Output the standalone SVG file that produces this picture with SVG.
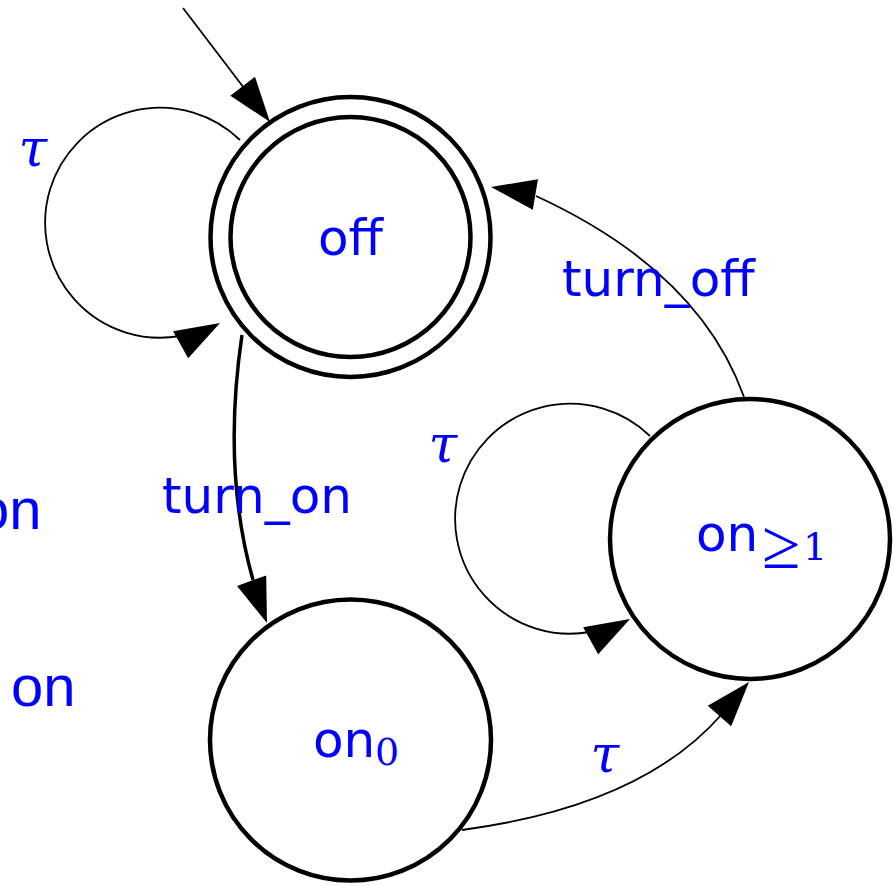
<svg xmlns="http://www.w3.org/2000/svg" xmlns:xlink="http://www.w3.org/1999/xlink" width="893" height="886" viewBox="0 0 893 886">
<style>
.node{fill:#fff;stroke:#000;stroke-width:4.5}
.edge{fill:none;stroke:#000;stroke-width:1.8}
.thick{stroke-width:3.5}
.lbl{font-family:"DejaVu Sans",sans-serif;font-size:50px;fill:#0000ff}
.sub{font-family:"DejaVu Serif",serif;font-size:38px;fill:#0000ff}
.rel{font-family:"Liberation Serif",serif;font-size:70px;fill:#0000ff}
.tau{font-family:"DejaVu Serif",serif;font-style:italic;font-size:52px;fill:#0000ff;text-anchor:middle}
.stray{font-family:"Liberation Sans",Arial,sans-serif;font-size:58px;fill:#0000ff}
</style>
<defs>
<path id="ah" d="M0,0 L-45,-15.5 L-45,15.5 Z" fill="#000"/>
</defs>
<rect width="893" height="886" fill="#fff"/>
<text class="stray" x="-23" y="529">on</text>
<text class="stray" x="11" y="706">on</text>
<g id="connectors">
<line class="edge" x1="183" y1="8" x2="244" y2="88"/>
<use xlink:href="#ah" transform="translate(270,122) rotate(52.6)"/>
<path class="edge" d="M240,140 A115,115 0 1 0 180,336"/>
<use xlink:href="#ah" transform="translate(220,323) rotate(-29)"/>
<path class="edge" d="M650,436 A115,115 0 1 0 590,632"/>
<use xlink:href="#ah" transform="translate(630,619) rotate(-29)"/>
<path class="edge thick" d="M242,335 Q222,470 253,580"/>
<use xlink:href="#ah" transform="translate(267,623) rotate(70)"/>
<path class="edge" d="M462,830 Q642,806 722,714"/>
<use xlink:href="#ah" transform="translate(749,682) rotate(-49)"/>
<path class="edge" d="M744,397 Q699,271 536,196"/>
<use xlink:href="#ah" transform="translate(491,187) rotate(189.6)"/>
<text class="tau" x="33" y="166">τ</text>
<text class="tau" x="443" y="462">τ</text>
<text class="tau" x="605" y="772">τ</text>
<text class="lbl" x="162" y="513">turn_on</text>
<text class="lbl" x="562" y="296">turn_off</text>
</g>
<g id="off">
<circle class="node" cx="350.5" cy="237" r="140"/>
<circle class="node" cx="350.5" cy="237" r="120"/>
<text class="lbl" x="350.5" y="255" text-anchor="middle">off</text>
</g>
<g id="on0">
<circle class="node" cx="350.5" cy="740" r="140.5"/>
<text class="lbl" x="313" y="757">on</text>
<text class="sub" x="375" y="765">0</text>
</g>
<g id="on1">
<circle class="node" cx="750" cy="539" r="140"/>
<text class="lbl" x="696" y="551">on</text>
<text class="rel" x="762" y="568">≥</text>
<text class="sub" x="803" y="560">1</text>
</g>
</svg>
